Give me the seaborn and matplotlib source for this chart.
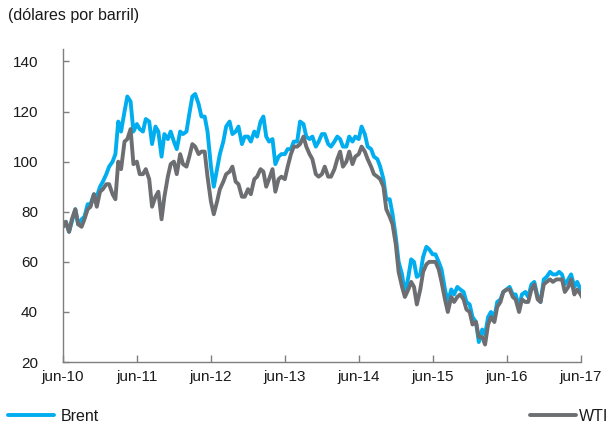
import numpy as np
import pandas as pd
import seaborn as sns
import matplotlib.pyplot as plt
from matplotlib.lines import Line2D

# precios (USD/barril), dos observaciones por mes: dia 1 y dia 15, jun-10 a jun-17
brent = [
    # 2010 jun-dic
    74, 76, 72, 76, 81, 75, 77, 78, 83, 83, 87, 86, 90, 92,
    # 2011
    95, 98, 100, 103, 116, 112, 120, 126, 124, 112, 115, 113, 112, 117,
    116, 107, 114, 112, 102, 111, 109, 112, 108, 105,
    # 2012
    112, 111, 112, 119, 126, 127, 123, 118, 118, 112, 98, 90, 97, 103,
    108, 114, 116, 111, 112, 114, 107, 110, 110, 108,
    # 2013
    112, 110, 116, 118, 110, 108, 109, 99, 102, 103, 103, 105, 105, 108,
    108, 116, 115, 110, 109, 110, 106, 108, 111, 111,
    # 2014
    107, 106, 108, 110, 109, 106, 106, 110, 108, 110, 109, 114, 111, 106,
    105, 102, 101, 98, 93, 85, 85, 79, 70, 60,
    # 2015
    55, 47, 54, 61, 60, 54, 55, 62, 66, 65, 63, 63, 60, 57,
    49, 44, 49, 47, 50, 49, 48, 44, 43, 38,
    # 2016
    36, 28, 33, 31, 38, 40, 38, 44, 45, 48, 49, 50, 47, 47,
    42, 47, 48, 46, 51, 52, 46, 44, 53, 54,
    # 2017 ene-jun
    56, 55, 55, 56, 55, 51, 53, 55, 50, 52, 49, 46,
]

wti = [
    # 2010 jun-dic
    74, 76, 72, 77, 81, 75, 74, 77, 81, 82, 87, 82, 88, 89,
    # 2011
    91, 91, 87, 85, 100, 97, 108, 109, 113, 99, 100, 95, 95, 97,
    93, 82, 86, 88, 77, 86, 94, 99, 100, 95,
    # 2012
    103, 99, 98, 102, 107, 106, 103, 104, 104, 94, 84, 79, 84, 89,
    92, 95, 96, 98, 92, 91, 86, 86, 89, 87,
    # 2013
    93, 94, 97, 96, 90, 93, 97, 88, 93, 94, 93, 98, 103, 106,
    106, 107, 110, 106, 103, 101, 95, 94, 95, 98,
    # 2014
    94, 94, 97, 101, 104, 98, 100, 104, 99, 102, 103, 106, 104, 101,
    98, 95, 94, 93, 90, 81, 78, 75, 67, 56,
    # 2015
    50, 46, 49, 52, 50, 43, 49, 56, 59, 60, 60, 60, 57, 52,
    45, 40, 46, 44, 46, 47, 45, 41, 40, 35,
    # 2016
    36, 30, 30, 27, 35, 38, 36, 42, 44, 48, 49, 49, 46, 45,
    40, 45, 44, 44, 49, 51, 45, 44, 51, 52,
    # 2017 ene-jun
    53, 52, 53, 53, 53, 48, 50, 53, 47, 49, 47, 45,
]

fechas = pd.date_range('2010-06-01', periods=len(brent), freq='SMS')
n = len(fechas)

df = pd.DataFrame({
    'fecha': list(fechas) + list(fechas),
    'precio': brent + wti,
    'serie': ['Brent'] * n + ['WTI'] * n,
})

ticks = pd.to_datetime(['2010-06-01', '2011-06-01', '2012-06-01', '2013-06-01',
                        '2014-06-01', '2015-06-01', '2016-06-01', '2017-06-01'])
tick_labels = ['jun-10', 'jun-11', 'jun-12', 'jun-13', 'jun-14', 'jun-15', 'jun-16', 'jun-17']

colores = {'Brent': '#00AEEF', 'WTI': '#6D6E71'}

sns.set_style('white')
plt.rcParams['font.family'] = ['Liberation Sans', 'DejaVu Sans']
plt.rcParams['text.color'] = '#1a1a1a'

fig = plt.figure(figsize=(6.09, 4.25), dpi=100)
ax = fig.add_axes([0.1034, 0.148, 0.850, 0.737])

sns.lineplot(data=df, x='fecha', y='precio', hue='serie', palette=colores,
             linewidth=2.8, ax=ax, legend=False)

ax.set_xlim(ticks[0], ticks[-1])
ax.set_ylim(20, 145)
ax.set_yticks([20, 40, 60, 80, 100, 120, 140])
ax.set_xticks(ticks)
ax.set_xticklabels(tick_labels)
ax.set_xlabel('')
ax.set_ylabel('')

for s in ['top', 'right']:
    ax.spines[s].set_visible(False)
for s in ['left', 'bottom']:
    ax.spines[s].set_color('#7f7f7f')
    ax.spines[s].set_linewidth(1.0)

ax.tick_params(axis='y', direction='in', length=4, width=1, color='#7f7f7f',
               pad=18, labelsize=11, labelcolor='#1a1a1a', left=True)
ax.tick_params(axis='x', direction='in', length=5, width=1, color='#7f7f7f',
               pad=6, labelsize=11, labelcolor='#1a1a1a', bottom=True)

fig.text(0.013, 0.963, '(dólares por barril)', fontsize=11.5, va='center', ha='left')

h_brent = Line2D([], [], color=colores['Brent'], linewidth=2.8)
h_wti = Line2D([], [], color=colores['WTI'], linewidth=2.8)
leg1 = fig.legend([h_brent], ['Brent'], loc='lower left', bbox_to_anchor=(0.005, -0.008),
                  frameon=False, handlelength=2.9, handletextpad=0.4, borderpad=0.3,
                  borderaxespad=0.0, fontsize=11.5)
leg2 = fig.legend([h_wti], ['WTI'], loc='lower right', bbox_to_anchor=(1.006, -0.008),
                  frameon=False, handlelength=2.9, handletextpad=0.15, borderpad=0.3,
                  borderaxespad=0.0, fontsize=11.5)

fig.savefig('out.png', dpi=100)
